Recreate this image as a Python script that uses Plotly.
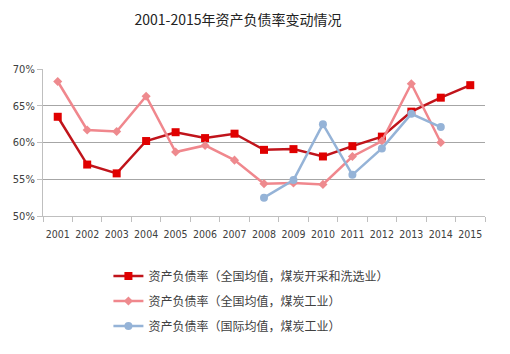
import plotly.graph_objects as go

years = [str(y) for y in range(2001, 2016)]
coal_mining = [63.5, 57.0, 55.8, 60.2, 61.4, 60.6, 61.2, 59.0, 59.1, 58.1, 59.5, 60.8, 64.2, 66.1, 67.8]
coal_industry = [68.3, 61.7, 61.5, 66.3, 58.7, 59.6, 57.6, 54.4, 54.5, 54.3, 58.1, 60.2, 68.0, 60.0]
intl_years = years[7:14]
intl_coal = [52.5, 54.9, 62.5, 55.6, 59.2, 63.9, 62.1]
y_ticks = [50, 55, 60, 65, 70]
y_labels = ["50%", "55%", "60%", "65%", "70%"]

names = ["资产负债率（全国均值，煤炭开采和洗选业）",
         "资产负债率（全国均值，煤炭工业）",
         "资产负债率（国际均值，煤炭工业）"]

fig = go.Figure()
fig.add_trace(go.Scatter(x=years, y=coal_mining, name=names[0], mode="lines+markers",
                         line=dict(color="#C0141B", width=2.5),
                         marker=dict(symbol="square", size=8, color="#E00000"),
                         legendgroup="a"))
fig.add_trace(go.Scatter(x=years[:14], y=coal_industry, name=names[1], mode="lines+markers",
                         line=dict(color="#F0878D", width=2.5),
                         marker=dict(symbol="diamond", size=7, color="#EE8A8E"),
                         legendgroup="b"))
fig.add_trace(go.Scatter(x=intl_years, y=intl_coal, name=names[2], mode="lines+markers",
                         line=dict(color="#95B3D7", width=2.5),
                         marker=dict(symbol="circle", size=8, color="#95B3D7"),
                         legendgroup="c"))

fig.update_layout(
    width=510, height=354,
    margin=dict(l=43, r=25, t=69, b=138),
    paper_bgcolor="white", plot_bgcolor="white",
    title=dict(text="2001-2015年资产负债率变动情况", x=238/510, xanchor="center",
               y=1 - 20/354, yanchor="middle",
               font=dict(family="Noto Sans CJK SC", size=14, color="#222222")),
    font=dict(family="DejaVu Sans Condensed, Roboto, sans-serif", size=10.5, color="#404040"),
    showlegend=True,
    legend=dict(x=0.148, y=-0.31, xanchor="left", yanchor="top",
                traceorder="grouped", tracegroupgap=6,
                font=dict(family="Noto Sans CJK SC", size=12, color="#404040"),
                bgcolor="rgba(0,0,0,0)"),
)
fig.update_xaxes(type="category", categoryorder="array", categoryarray=years,
                 showline=True, linecolor="#BFBFBF", linewidth=1,
                 ticks="outside", ticklen=5, tickcolor="#BFBFBF",
                 tickson="boundaries", showgrid=False, tickangle=0,
                 range=[-0.5, 14.5], ticklabelstandoff=8)
fig.update_yaxes(range=[50, 70], tickvals=y_ticks, ticktext=y_labels,
                 showline=True, linecolor="#BFBFBF", linewidth=1,
                 ticks="outside", ticklen=5, tickcolor="#BFBFBF",
                 showgrid=True, gridcolor="#A6A6A6", gridwidth=1,
                 zeroline=False, tickfont=dict(size=11))

fig.write_html("out.html")
